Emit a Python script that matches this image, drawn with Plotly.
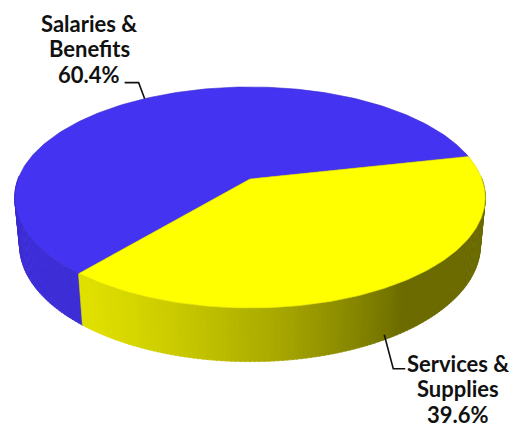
import numpy as np
import plotly.graph_objects as go

# ---- data ----
categories = [["Salaries &", "Benefits"], ["Services &", "Supplies"]]
shares = [60.4, 39.6]
pct_labels = ["60.4%", "39.6%"]
top_rgb = [(68, 51, 240), (255, 255, 0)]

# ---- view / projection parameters ----
W, H = 516, 427
CX, CY = 250.0, 179.0          # screen position of the pie centre
FOCAL, DIST = 1227.0, 5.29     # perspective camera
ELEV = np.radians(27.6)        # camera elevation
S_E, C_E = np.sin(ELEV), np.cos(ELEV)
THICK = 0.235                  # disc thickness (radius = 1)
START_DEG = 230.0              # first slice starts here, slices run clockwise
LIGHT_DEG = 215.0


def project(phi_deg, y=0.0):
    """Project point on the rim at angle phi (ccw, 90 = far side) at height y."""
    p = np.radians(phi_deg)
    depth = DIST - y * S_E + C_E * np.sin(p)
    sx = FOCAL * np.cos(p) / depth
    sy = FOCAL * (y * C_E + S_E * np.sin(p)) / depth
    return CX + sx, CY - sy


def project_centre(y=0.0):
    depth = DIST - y * S_E
    return CX, CY - FOCAL * y * C_E / depth


def rgb(c, k=1.0):
    return "rgb(%d,%d,%d)" % tuple(int(round(min(255, v * k))) for v in c)


# slice angle ranges (ccw a0 < a1), laid out clockwise from START_DEG
total = sum(shares)
ranges = []
cur = START_DEG
for v in shares:
    span = 360.0 * v / total
    ranges.append((cur - span, cur))
    cur -= span

fig = go.Figure()

# ---- side wall: thin shaded strips, painted far-to-near ----
strips = []
for i, (a0, a1) in enumerate(ranges):
    edges = np.arange(a0, a1, 1.0).tolist() + [a1]
    for e0, e1 in zip(edges[:-1], edges[1:]):
        mid = 0.5 * (e0 + e1)
        if np.sin(np.radians(mid)) >= 0.02:
            continue
        k = 0.42 + 0.48 * max(0.0, np.cos(np.radians(mid - LIGHT_DEG)))
        strips.append((np.sin(np.radians(mid)), e0, e1, rgb(top_rgb[i], k)))
strips.sort(key=lambda s: -s[0])
for _, e0, e1, col in strips:
    arc = np.linspace(e0 - 0.15, e1 + 0.15, 4)
    top = [project(a, 0.0) for a in arc]
    bot = [project(a, -THICK) for a in arc[::-1]]
    pts = top + bot + [top[0]]
    fig.add_trace(go.Scatter(
        x=[p[0] for p in pts], y=[p[1] for p in pts],
        mode="lines", fill="toself", fillcolor=col,
        line=dict(color=col, width=0.6), hoverinfo="skip", showlegend=False))

# ---- top face slices ----
for i, (a0, a1) in enumerate(ranges):
    arc = np.linspace(a0, a1, 200)
    pts = [project_centre()] + [project(a) for a in arc] + [project_centre()]
    fig.add_trace(go.Scatter(
        x=[p[0] for p in pts], y=[p[1] for p in pts],
        mode="lines", fill="toself", fillcolor=rgb(top_rgb[i]),
        line=dict(color=rgb(top_rgb[i], 0.85), width=0.6),
        hoverinfo="skip", showlegend=False))

# ---- labels with leader lines ----
mids = [0.5 * (a0 + a1) for a0, a1 in ranges]
label_font = dict(family="Lato", size=22, color="#111111", weight="bold")
LINE_GAP = 25.5


def add_label(lines, cx, first_mid):
    for j, txt in enumerate(lines):
        fig.add_annotation(x=cx, y=first_mid + j * LINE_GAP, xref="x", yref="y",
                           showarrow=False, text=txt, font=label_font,
                           xanchor="center", yanchor="middle", borderpad=0)


# Salaries & Benefits: leader from the top rim, label upper left
ax, ay = project(mids[0], 0.0)
fig.add_trace(go.Scatter(x=[ax, ax - 6, ax - 20], y=[ay, ay - 16, ay - 16],
                         mode="lines", line=dict(color="#111111", width=1.6),
                         hoverinfo="skip", showlegend=False))
add_label(categories[0] + [pct_labels[0]], 89, 23)

# Services & Supplies: leader from the bottom rim, label lower right
bx, by = project(mids[1], -THICK)
fig.add_trace(go.Scatter(x=[bx - 3, bx + 6, bx + 18], y=[by - 4, by + 30, by + 30],
                         mode="lines", line=dict(color="#111111", width=1.6),
                         hoverinfo="skip", showlegend=False))
add_label(categories[1] + [pct_labels[1]], 458, 363)

fig.update_layout(
    width=W, height=H, margin=dict(l=0, r=0, t=0, b=0),
    paper_bgcolor="white", plot_bgcolor="white", showlegend=False,
    xaxis=dict(range=[0, W], visible=False, fixedrange=True),
    yaxis=dict(range=[H, 0], visible=False, fixedrange=True),
)
fig.write_html("out.html")
